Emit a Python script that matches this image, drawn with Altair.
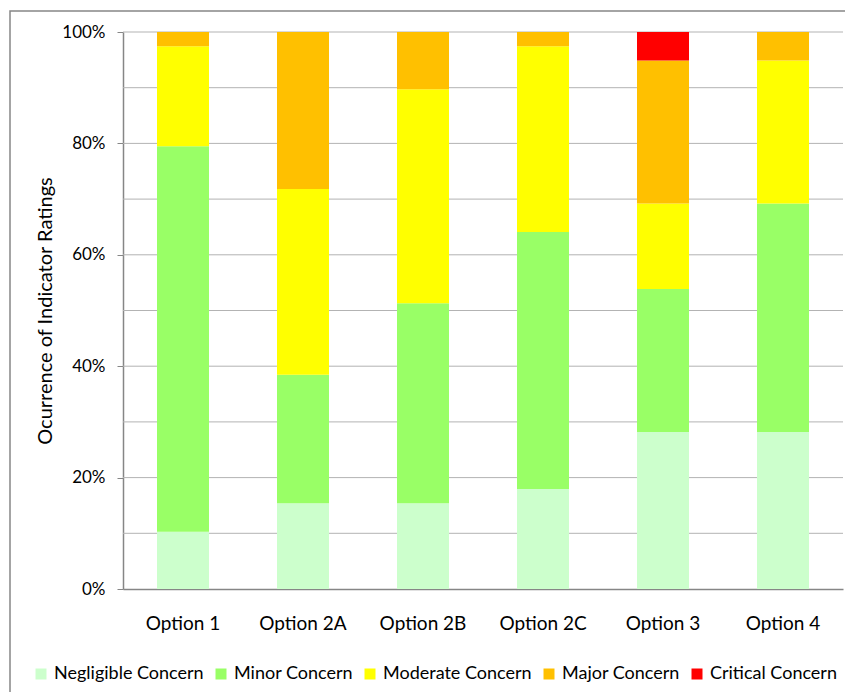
import altair as alt
import pandas as pd

options = ["Option 1", "Option 2A", "Option 2B", "Option 2C", "Option 3", "Option 4"]
ratings = ["Negligible Concern", "Minor Concern", "Moderate Concern", "Major Concern", "Critical Concern"]
colors = ["#CCFFCC", "#99FF66", "#FFFF00", "#FFC000", "#FF0000"]

# counts of indicators (out of 39) per option, per rating
negligible = [4, 6, 6, 7, 11, 11]
minor = [27, 9, 14, 18, 10, 16]
moderate = [7, 13, 15, 13, 6, 10]
major = [1, 11, 4, 1, 10, 2]
critical = [0, 0, 0, 0, 2, 0]

grid_values = [0.1, 0.2, 0.3, 0.4, 0.5, 0.6, 0.7, 0.8, 0.9, 1.0]
tick_values = [0, 0.2, 0.4, 0.6, 0.8, 1.0]

rows = []
for series, name in zip([negligible, minor, moderate, major, critical], ratings):
    for opt, v in zip(options, series):
        rows.append({"option": opt, "rating": name, "count": v, "rank": ratings.index(name)})
df = pd.DataFrame(rows)
grid_df = pd.DataFrame({"g": grid_values})

W, H = 720, 557
FONT = "Lato"

yaxis = alt.Axis(title="Ocurrence of Indicator Ratings", format=".0%",
                 values=tick_values, grid=False, tickSize=6,
                 tickColor="#868686", domainColor="#868686", domainWidth=1.5,
                 labelPadding=12, labelFontSize=17, labelFont=FONT,
                 labelColor="#000000", titleFontSize=20, titleFont=FONT,
                 titleFontWeight="normal", titleColor="#000000",
                 titleX=-78, titleY=H / 2, titleAngle=-90,
                 titleAlign="center", titleBaseline="middle")

grid = alt.Chart(grid_df).mark_rule(color="#b3b3b3", strokeWidth=1).encode(
    y=alt.Y("g:Q", scale=alt.Scale(domain=[0, 1]), axis=yaxis),
)

bars = alt.Chart(df).mark_bar(size=52).encode(
    x=alt.X("option:N", sort=options,
            scale=alt.Scale(paddingInner=0.5, paddingOuter=0.25),
            axis=alt.Axis(title=None, ticks=False, labelAngle=0, labelPadding=25,
                          labelFontSize=19, labelFont=FONT, labelColor="#000000",
                          domainColor="#868686", domainWidth=1.5)),
    y=alt.Y("count:Q", stack="normalize",
            scale=alt.Scale(domain=[0, 1]),
            axis=yaxis),
    color=alt.Color("rating:N", scale=alt.Scale(domain=ratings, range=colors),
                    legend=alt.Legend(title=None, orient="none", direction="horizontal",
                                      legendX=-91, legendY=633, symbolType="square",
                                      symbolSize=121, symbolStrokeWidth=0,
                                      labelFontSize=18, labelFont=FONT, labelColor="#000000",
                                      columnPadding=8, labelOffset=4, padding=0,
                                      columns=5)),
    order=alt.Order("rank:Q"),
)

border = alt.Chart(grid_df.head(1)).mark_rect(fill=None, stroke="#868686", strokeWidth=1.5).encode(
    x=alt.value(-113), x2=alt.value(760), y=alt.value(-21), y2=alt.value(720)
)

chart = alt.layer(grid, bars, border).properties(
    width=W, height=H,
    autosize=alt.AutoSizeParams(type="none"),
    padding={"left": 115, "top": 24, "right": 2, "bottom": 103},
).configure_view(stroke=None)

chart.save("out.html", embed_options={"renderer": "svg", "actions": False})
